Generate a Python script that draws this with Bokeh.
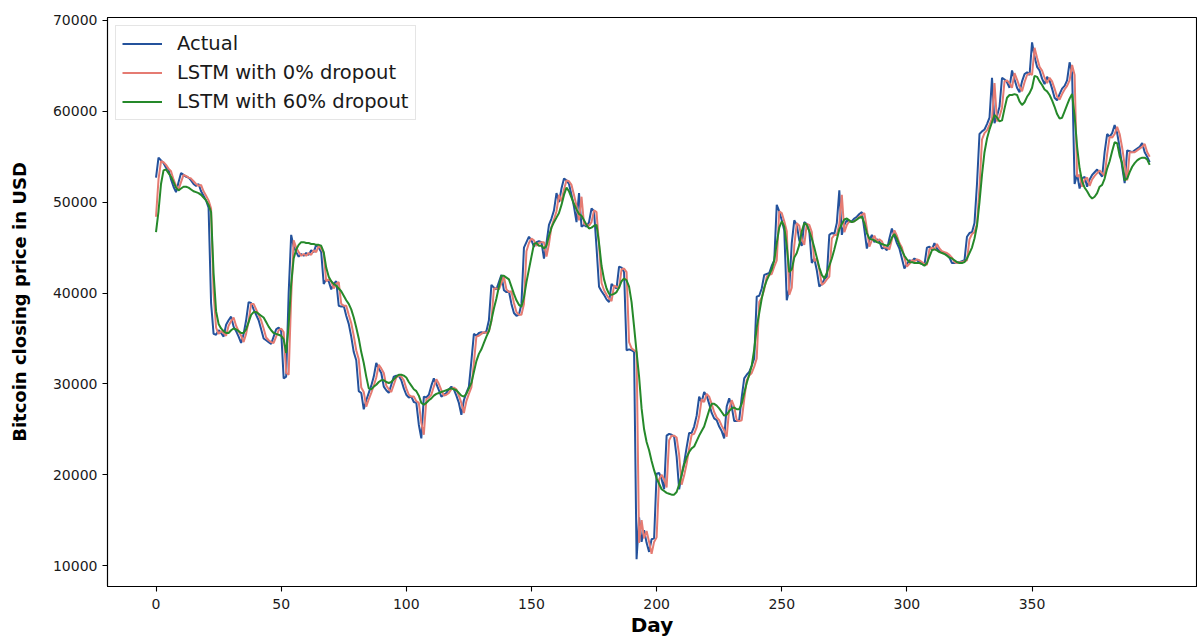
from bokeh.plotting import figure
from bokeh.models import Range1d, FixedTicker, Legend
from bokeh.embed import file_html
from bokeh.resources import INLINE

actual = [
    52700, 54900, 54600, 54300, 53800, 53600, 52500, 51700, 51100, 52200,
    53200, 53000, 52800, 52700, 52400, 52000, 51800, 52000, 51200, 50700,
    50200, 49400, 38900, 35500, 35400, 35900, 35600, 35200, 36500, 37000,
    37400, 36300, 35800, 35200, 34500, 35500, 37000, 39000, 38900, 38200,
    37600, 37000, 36000, 35000, 34800, 34600, 34400, 35200, 36000, 36200,
    35800, 30600, 30800, 40000, 46400, 45100, 44500, 44000, 44300, 44100,
    44400, 44200, 44700, 44500, 45300, 45000, 44500, 41000, 41500, 41300,
    40400, 41000, 41300, 38600, 38500, 38600, 37500, 36600, 35200, 33500,
    32600, 29200, 29000, 27200, 28200, 29000, 29800, 30800, 32300, 31700,
    31200, 29700, 29300, 29000, 29900, 30800, 30900, 30900, 30400, 29500,
    28800, 28500, 28600, 28000, 27900, 25500, 24000, 28600, 28500, 28800,
    29800, 30600, 30000, 29300, 28600, 28800, 29000, 29400, 29700, 29400,
    28700, 27900, 26600, 28200, 29000, 29700, 32500, 35500, 35300, 35600,
    35700, 35600, 35800, 37000, 40900, 40600, 40400, 41200, 42000, 40300,
    40100, 40200, 38800, 37800, 37500, 37600, 38800, 45000, 45600, 46200,
    45800, 45100, 45600, 45700, 45600, 43800, 45500, 47500, 48200, 49100,
    51000, 50000, 51500, 52600, 52400, 52000, 50800, 49500, 47800, 51000,
    47300, 47500, 47300, 47800, 49300, 49000, 45000, 40700, 40200, 39800,
    39300, 39000, 41000, 40700, 40500, 42900, 42800, 42300, 33700, 33800,
    33700, 33500, 10700, 15300, 12600, 13900, 12500, 11500, 12900, 13000,
    20100, 20200, 19500, 18400, 24300, 24500, 24400, 24200, 22000, 18400,
    20000, 21300, 23000, 24600, 24600, 25300, 26500, 28600, 28000, 29100,
    28700, 27800, 26800, 26200, 26000, 25300, 24800, 24000, 27500, 28400,
    27500, 25900, 25900, 26000, 28500, 30600, 31000, 31300, 32000, 32800,
    39600, 39700, 40500, 42000, 42100, 42200, 43000, 43600, 49700, 49000,
    48000, 46900, 39200, 40500, 45500, 48000, 47500, 45800, 45200, 47800,
    47600, 46800, 43300, 43800, 42500, 40700, 41000, 41500, 41800, 46400,
    46600, 46500, 47700, 51300, 46400, 47500, 48000, 47800, 47900, 48200,
    48400, 48700, 48900, 47000, 44900, 45800, 46400, 45600, 45900, 45700,
    44900, 45000, 44700, 46000, 47100, 46300, 45500, 44900, 43800, 42700,
    43200, 43600, 43500, 43800, 43600, 43400, 43200, 43100, 45000, 45100,
    44800, 45500, 44900, 44600, 44500, 44400, 44200, 43900, 43300, 43300,
    43400, 43400, 43500, 43600, 46200, 46600, 46700, 47700, 52000, 57500,
    57800, 58000, 58600, 59300, 63700, 58700, 59500, 60500, 63700, 63500,
    63200, 62600, 64500, 63500, 62600, 62100, 63300, 64100, 64300, 64000,
    67600, 66000, 64900, 64500, 63600, 63000, 63800, 63400, 62500, 61500,
    61200, 61900, 62500, 62800, 63400, 65400, 64200, 52000, 53100, 51500,
    52600, 52800, 51700, 52500, 53000, 53300, 53600, 53200, 52800, 55500,
    57500, 57200, 57600, 58500, 57600, 56000, 53900, 52100, 55700, 55600,
    55500, 55700, 55900, 56100, 56500, 55500, 55000, 54400,
]

lstm_0 = [
    48400, 52500, 54500, 54400, 54100, 53700, 53400, 52500, 51800, 51400,
    52200, 53000, 52900, 52700, 52600, 52300, 52000, 51800, 51900, 51200,
    50700, 50200, 49300, 40000, 36200, 35500, 35800, 35600, 35300, 36400,
    36900, 37300, 36400, 35800, 35300, 34600, 35500, 36900, 38800, 38800,
    38200, 37600, 37000, 36100, 35100, 34800, 34600, 34500, 35200, 35900,
    36100, 35700, 31200, 31000, 39500, 45800, 45000, 44500, 44100, 44300,
    44100, 44400, 44200, 44700, 44500, 45200, 44900, 44400, 41300, 41500,
    41300, 40500, 41000, 41200, 38800, 38600, 38600, 37600, 36700, 35300,
    33700, 32700, 29600, 29100, 27500, 28300, 29000, 29800, 30700, 32100,
    31700, 31200, 29800, 29400, 29100, 29900, 30700, 30900, 30800, 30400,
    29500, 28800, 28600, 28600, 28100, 27900, 25700, 24400, 28300, 28500,
    28800, 29700, 30500, 30000, 29300, 28700, 28800, 29000, 29400, 29600,
    29400, 28700, 27900, 26800, 28100, 28900, 29600, 32300, 35200, 35300,
    35500, 35700, 35600, 35800, 36900, 40500, 40500, 40400, 41100, 41800,
    40400, 40100, 40200, 38900, 37900, 37600, 37600, 38800, 44600, 45500,
    46000, 45800, 45200, 45500, 45600, 45600, 44000, 45400, 47300, 48100,
    49000, 50800, 50100, 51400, 52400, 52300, 51900, 50800, 49600, 48000,
    50600, 47600, 47500, 47400, 47800, 49100, 48900, 45300, 41100, 40300,
    39800, 39400, 39100, 40800, 40700, 40500, 42600, 42700, 42300, 34600,
    33900, 33700, 33500, 12500, 15000, 13000, 13800, 12600, 11300, 12600,
    13100, 19500, 20000, 19500, 18600, 23800, 24300, 24300, 24100, 22200,
    18900, 19900, 21200, 22900, 24400, 24500, 25200, 26400, 28300, 28000,
    28900, 28600, 27800, 26900, 26300, 26000, 25400, 24900, 24200, 27200,
    28200, 27500, 26000, 25900, 26000, 28300, 30400, 30900, 31200, 31900,
    32800, 39000, 39500, 40400, 41800, 42000, 42100, 42900, 43600, 49000,
    48800, 47900, 46800, 39800, 40600, 45200, 47700, 47400, 45900, 45300,
    47600, 47500, 46700, 43500, 43800, 42600, 40900, 41100, 41500, 41800,
    46000, 46400, 46400, 47600, 50800, 46700, 47500, 47900, 47800, 47900,
    48100, 48400, 48600, 48800, 47100, 45100, 45800, 46300, 45700, 45900,
    45700, 45000, 45000, 44800, 45900, 46900, 46300, 45500, 45000, 43900,
    42900, 43200, 43600, 43500, 43700, 43600, 43400, 43200, 43100, 44800,
    45000, 44800, 45400, 44900, 44600, 44500, 44400, 44200, 43900, 43400,
    43300, 43400, 43400, 43500, 43600, 45900, 46500, 46700, 47600, 51600,
    56900, 57600, 57900, 58500, 59200, 63100, 58900, 59400, 60400, 63300,
    63400, 63100, 62600, 64200, 63500, 62700, 62200, 63200, 64000, 64200,
    64000, 67000, 65900, 64900, 64500, 63700, 63100, 63700, 63300, 62500,
    61600, 61300, 61900, 62400, 62800, 63400, 65100, 64000, 52800, 53000,
    51700, 52500, 52700, 51800, 52500, 52900, 53200, 53500, 53200, 52900,
    55300, 57200, 57100, 57500, 58300, 57500, 56000, 54100, 52400, 55500,
    55500, 55500, 55700, 55900, 56100, 56400, 55500, 55000,
]

lstm_60 = [
    46700, 49000, 52000, 53500, 53600, 53200, 52800, 52200, 51600, 51300,
    51500, 51700, 51700, 51600, 51400, 51200, 51100, 51000, 50800, 50500,
    50200, 49700, 48900, 42200, 38000, 36600, 36100, 35800, 35600, 35600,
    35900, 36100, 36000, 35800, 35600, 35600, 36000, 36800, 37600, 37900,
    37900, 37700, 37500, 37300, 36800, 36300, 35900, 35600, 35500, 35400,
    35300, 34900, 33400, 36500, 41000, 43800, 44800, 45300, 45600, 45600,
    45500, 45500, 45400, 45400, 45300, 45300, 45200, 44500, 42800, 41800,
    41300, 41000, 40800, 40500, 40200, 39700, 39200, 38800, 38200, 37300,
    36200, 35000, 33500, 32300, 30800, 29500, 29400, 29700, 29900, 30200,
    30400, 30400, 30200, 30100, 30200, 30500, 30800, 31000, 31000, 30900,
    30700, 30200, 29800, 29400, 29200, 28700, 27900, 27700, 27900, 28200,
    28400, 28700, 28900, 29000, 29100, 29200, 29300, 29400, 29500, 29400,
    29300, 29000, 28700, 28600, 28900, 29500, 30100, 31300, 32500, 33300,
    33800, 34500, 35200, 35800, 37000, 38300, 39400, 40700, 41900, 41900,
    41700, 41500, 40700, 39900, 39200, 38700, 38500, 39500, 41200, 42600,
    44000, 45400, 45500, 45200, 45200, 44900, 45200, 46300, 47200, 47800,
    48300, 48800, 49700, 50800, 51600, 51200, 50500, 49800, 49200, 48700,
    48500, 48000, 47500, 47100, 47200, 47400, 47500, 45500, 43000, 41500,
    40500, 39900, 39800, 39900, 40100, 40600, 41300, 41600, 41400, 40700,
    39000, 36300, 33500, 30800, 27300, 25000, 23600, 22700, 21500, 20500,
    19600, 19000, 18400, 18200, 18000, 17900, 17800, 17800, 18100, 18900,
    20000, 21100, 21900, 22500, 22900, 23100, 23700, 24300, 24800, 25300,
    26200, 27100, 27800, 27800, 27600, 27300, 26900, 26500, 26600, 27000,
    27300, 27400, 27200, 27200, 27800, 29000, 30100, 31000, 32000, 33800,
    36200, 37800, 39400, 40600, 41400, 42000, 42600, 43600, 45500, 47200,
    47900, 47300, 45200, 42300, 42600, 43900, 44400, 45300, 46800, 47700,
    47500, 46800, 46000, 45000, 43900, 42800, 42000, 41600, 42200, 43000,
    43800, 44800, 45900, 47000, 47600, 48100, 48200, 48000, 47800, 47900,
    48100, 48300, 48400, 47700, 46600, 46000, 45900, 45800, 45600, 45500,
    45400, 45300, 45200, 45400, 46100, 46500, 46000, 45300, 44700, 44100,
    43700, 43400, 43400, 43300, 43300, 43300, 43200, 43000, 43300, 44000,
    44700, 44800, 44700, 44500, 44400, 44300, 44100, 43900, 43800, 43600,
    43400, 43300, 43300, 43400, 43800, 44400, 45000, 46000, 47400, 50000,
    53000, 55500, 57000, 58000, 58800, 59600, 59300, 58900, 59000, 60300,
    61500, 61800, 61800, 61900, 61800, 61100, 60700, 61000, 61600, 62000,
    62600, 63900, 63800, 63300, 62900, 62400, 62200, 61800, 61200, 60500,
    59700, 59200, 59300, 60000, 60700, 61400, 61900, 59500, 56100, 53700,
    52300, 51600, 51200, 50700, 50400, 50600, 51000, 51700, 51900, 52600,
    53700, 54500, 55600, 56600, 56500, 55100, 54300, 52400, 52600, 53300,
    53900, 54300, 54600, 54800, 54900, 54900, 54700, 54100,
]

x_ticks = [0, 50, 100, 150, 200, 250, 300, 350]
y_ticks = [10000, 20000, 30000, 40000, 50000, 60000, 70000]

FONT = "DejaVu Sans"

p = figure(
    width=1197, height=639,
    output_backend="svg", toolbar_location=None,
    x_range=Range1d(-19.38, 415.7), y_range=Range1d(7692, 70330),
    min_border_left=107, min_border_right=1, min_border_top=17, min_border_bottom=52,
)
p.background_fill_color = "white"
p.border_fill_color = "white"
p.outline_line_color = "black"
p.outline_line_width = 1.1
p.xgrid.visible = False
p.ygrid.visible = False

r1 = p.line(list(range(len(actual))), actual, line_color="#24529c", line_width=2)
r2 = p.line(list(range(len(lstm_0))), lstm_0, line_color="#e57b72", line_width=2)
r3 = p.line(list(range(len(lstm_60))), lstm_60, line_color="#25892a", line_width=2)

for ax in (p.xaxis[0], p.yaxis[0]):
    ax.axis_line_color = "black"
    ax.axis_line_width = 1.1
    ax.major_tick_line_color = "black"
    ax.major_tick_line_width = 1.1
    ax.major_tick_out = 5
    ax.major_tick_in = 0
    ax.minor_tick_line_color = None
    ax.major_label_text_font = FONT
    ax.major_label_text_font_size = "14px"
    ax.major_label_text_color = "#1a1a1a"
    ax.axis_label_text_font = FONT
    ax.axis_label_text_font_style = "bold"
    ax.axis_label_text_color = "black"

p.xaxis.ticker = FixedTicker(ticks=x_ticks)
p.yaxis.ticker = FixedTicker(ticks=y_ticks)
p.yaxis.formatter.use_scientific = False
p.xaxis.major_label_standoff = 7
p.yaxis.major_label_standoff = 5
p.xaxis.axis_label = "Day"
p.xaxis.axis_label_text_font_size = "20px"
p.xaxis.axis_label_standoff = 1
p.yaxis.axis_label = "Bitcoin closing price in USD"
p.yaxis.axis_label_text_font_size = "18px"
p.yaxis.axis_label_standoff = 20

legend = Legend(items=[
    ("Actual", [r1]),
    ("LSTM with 0% dropout", [r2]),
    ("LSTM with 60% dropout", [r3]),
], location="top_left")
legend.margin = 8
legend.padding = 6
legend.spacing = 6
legend.glyph_width = 40
legend.glyph_height = 21
legend.label_height = 21
legend.label_standoff = 15
legend.label_text_font = FONT
legend.label_text_font_size = "19.5px"
legend.label_text_color = "#1a1a1a"
legend.border_line_color = "#cccccc"
legend.border_line_width = 1
legend.background_fill_color = "white"
legend.background_fill_alpha = 0.8
p.add_layout(legend)

open("out.html", "w").write(file_html(p, INLINE))
